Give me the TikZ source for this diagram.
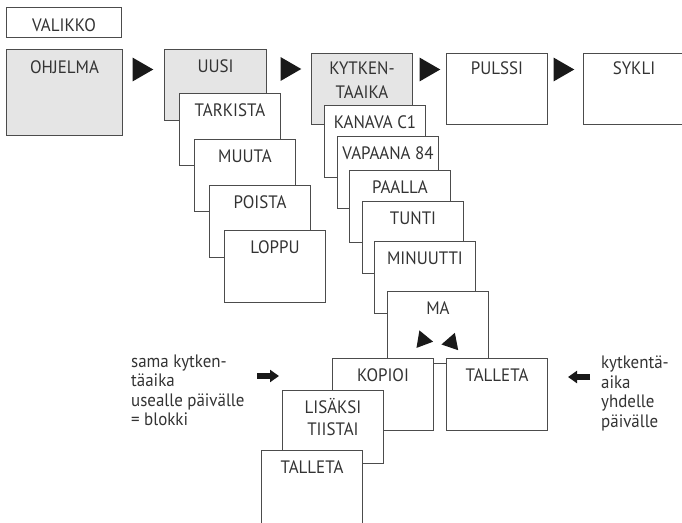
\documentclass[tikz,border=0pt]{standalone}
\usepackage{fontspec}
\setmainfont[FakeStretch=0.94]{PT Sans}
\usetikzlibrary{shapes,arrows.meta}

\begin{document}
\begin{tikzpicture}[x=1pt,y=-1pt,font=\fontsize{18}{19.5}\selectfont]
	\tikzstyle{screen} = [draw=black!70, line width=1pt, fill=white, text=black!80, inner sep=0pt, minimum width=101pt, text height=22.5pt, text depth=49.5pt, align=center, anchor=north west]
	\tikzstyle{screengray} = [screen, fill=black!10]
	\tikzstyle{toprow} = [text height=20.5pt, text depth=50.5pt]
	\tikzstyle{tri} = [regular polygon, regular polygon sides=3, shape border rotate=-90, fill=black!90, inner sep=0pt, minimum size=27.5pt]
	\tikzstyle{note} = [align=left, inner sep=0pt, anchor=base west, text=black!80]
	\tikzstyle{blk} = [line width=6.5pt, black!90, -{Triangle[length=9pt,width=12pt]}]

	\useasboundingbox (0,0) rectangle (682,522);
	\clip (0,0) rectangle (682,522);

	\node[screen, minimum width=115pt, text height=24pt, text depth=6pt] (Valikko) at (6,7) {VALIKKO};
	\node[screengray, minimum width=116pt, text height=24pt, text depth=62pt] (Ohjelma) at (6,49) {OHJELMA};

	\node[screengray, minimum width=102pt, text height=23pt, text depth=48pt] (Uusi) at (164,49) {UUSI};
	\node[screen] (Tarkista) at (179,93) {TARKISTA};
	\node[screen] (Muuta) at (194,139) {MUUTA};
	\node[screen] (Poista) at (209,185) {POISTA};
	\node[screen] (Loppu) at (224,230) {LOPPU};

	\node[screengray, text height=44.5pt, text depth=26.5pt] (Kytkenta) at (311,53) {KYTKEN-\\[4pt]TAAIKA};
	\node[screen, toprow] (Pulssi) at (446,53) {PULSSI};
	\node[screen, toprow] (Sykli) at (583,53) {SYKLI};

	\node[screen] (Kanava) at (324,105) {KANAVA C1};
	\node[screen] (Vapaana) at (337,136) {VAPAANA 84};
	\node[screen] (Paalla) at (349,170) {PAALLA};
	\node[screen] (Tunti) at (362,201) {TUNTI};
	\node[screen] (Minuutti) at (374,241) {MINUUTTI};
	\node[screen] (Ma) at (387,291) {MA};
	\node[screen] (Talleta) at (446,358) {TALLETA};
	\node[screen] (Kopioi) at (332,358) {KOPIOI};
	\node[screen, text height=45pt, text depth=28pt] (Lisaksi) at (282,390) {LIS\"AKSI\\[2.5pt]TIISTAI};
	\node[screen, text depth=52pt] (TalletaB) at (261,450) {TALLETA};

	\node[tri] (arr1) at (139.5,69.5) {};
	\node[tri] (arr2) at (287.5,69) {};
	\node[tri] (arr3) at (426.5,69.5) {};
	\node[tri] (arr4) at (560.5,69.5) {};
	\node[tri, minimum size=20.5pt, shape border rotate=-99.5] (maL) at (423,340) {};
	\node[tri, minimum size=20.5pt, shape border rotate=101] (maR) at (451.5,342.5) {};

	\node[note] (Sama) at (131,425.5) {sama kytken-\\t\"aaika\\usealle p\"aiv\"alle\\= blokki};
	\node[note] (Yksi) at (601,427) {kytkent\"a-\\aika\\yhdelle\\p\"aiv\"alle};

	\coordinate (blkA) at (257,376);
	\coordinate (blkB) at (279,376);
	\coordinate (blkC) at (590,377);
	\coordinate (blkD) at (568,377);
	\draw[blk] (blkA) -- (blkB);
	\draw[blk] (blkC) -- (blkD);
\end{tikzpicture}
\end{document}
